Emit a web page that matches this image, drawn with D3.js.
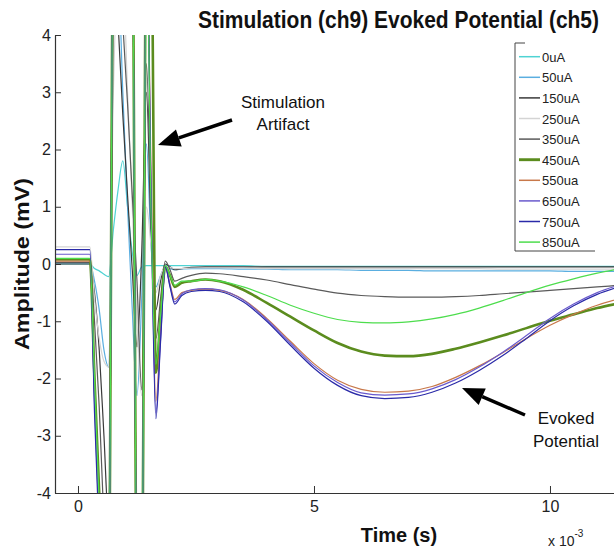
<!DOCTYPE html>
<html>
<head>
<meta charset="utf-8">
<script src="https://cdn.jsdelivr.net/npm/d3@7"></script>
<style>
  body { margin: 0; background: #fff; }
  svg, svg text { font-family: "Liberation Sans", Arial, Helvetica, sans-serif; }
  .tick text { font-size: 16px; fill: #222; }
  .tick line, .domain { stroke: #333; }
</style>
</head>
<body>
<script>
// Time samples (ms) shared by all traces
var timeMs = [-0.5, 0.25,
  0.35, 0.45, 0.55, 0.65, 0.75, 0.85, 0.95, 1.05, 1.15, 1.25, 1.35, 1.45, 1.55, 1.65, 1.75, 1.85, 1.95, 2.05, 2.2,
  2.4, 2.7, 3.0, 3.5, 4.0, 4.5, 5.0, 5.5, 6.0, 6.5, 7.0, 7.5, 8.0, 8.5, 9.0, 9.5, 10.0, 10.5, 11.0, 11.5];

// Amplitudes (mV), one array per stimulation current
var amp0uA = [0.0, 0.0,
  -0.08, -0.12, -0.18, -0.22, 0.6, 1.3, 1.8, 1.0, 0.2, -0.2, -0.05, -0.03, -0.03, -0.03, -0.03, -0.03, -0.03, -0.03, -0.03,
  -0.03, -0.03, -0.03, -0.03, -0.04, -0.04, -0.04, -0.04, -0.04, -0.04, -0.04, -0.04, -0.04, -0.04, -0.04, -0.04, -0.04, -0.04, -0.04, -0.04];
var amp50uA = [0.02, 0.02,
  -0.3, -0.8, -1.5, -1.8, 4.5, 5.0, 3.0, 1.0, -0.8, -2.3, -0.6, 2.1, 0.3, -0.4, -0.2, -0.05, -0.08, -0.1, -0.09,
  -0.08, -0.08, -0.08, -0.09, -0.09, -0.1, -0.1, -0.1, -0.11, -0.11, -0.11, -0.12, -0.12, -0.12, -0.12, -0.12, -0.12, -0.13, -0.13, -0.13];
var amp150uA = [0.0, 0.0,
  -0.5, -1.5, -3.0, -4.5, 6.0, 4.2, 2.6, 1.2, -0.1, -1.45, 0.2, 3.0, 0.5, -0.8, -0.3, 0.0, -0.05, -0.1, -0.08,
  -0.06, -0.05, -0.05, -0.05, -0.05, -0.05, -0.05, -0.05, -0.05, -0.05, -0.05, -0.05, -0.05, -0.05, -0.05, -0.05, -0.05, -0.05, -0.05, -0.05];
var amp250uA = [0.3, 0.3,
  -0.6, -1.3, -1.7, -1.8, 3.0, 5.0, 5.0, 3.0, 1.0, -1.0, -2.3, 1.0, 0.3, -0.5, -0.2, -0.05, -0.06, -0.08, -0.08,
  -0.07, -0.07, -0.07, -0.07, -0.08, -0.08, -0.08, -0.08, -0.08, -0.08, -0.08, -0.08, -0.08, -0.08, -0.09, -0.09, -0.09, -0.09, -0.09, -0.09];
var amp350uA = [0.03, 0.03,
  -1.0, -2.5, -4.5, -6.0, 5.0, 6.0, 4.2, 2.8, 1.2, -0.3, -2.2, 3.5, 0.8, -1.3, -0.6, 0.05, -0.1, -0.3, -0.25,
  -0.2, -0.16, -0.17, -0.22, -0.28, -0.36, -0.44, -0.51, -0.55, -0.57, -0.58, -0.58, -0.57, -0.55, -0.52, -0.49, -0.46, -0.43, -0.4, -0.37];
var amp450uA = [0.08, 0.08,
  -2.0, -4.0, -6.0, -6.0, 6.0, 6.0, 6.0, 6.0, 6.0, -6.0, -6.0, 6.0, 6.0, -1.9, -0.9, -0.05, -0.2, -0.4, -0.33,
  -0.3, -0.27, -0.3, -0.45, -0.68, -0.92, -1.16, -1.38, -1.53, -1.6, -1.61, -1.57, -1.48, -1.37, -1.25, -1.12, -0.99, -0.88, -0.77, -0.68];
var amp550uA = [0.05, 0.05,
  -2.2, -4.4, -6.0, -6.0, 6.0, 6.0, 6.0, 6.0, 6.0, -6.0, -6.0, 6.0, 1.5, -2.4, -1.2, -0.05, -0.35, -0.62, -0.5,
  -0.46, -0.44, -0.46, -0.62, -0.95, -1.35, -1.74, -2.03, -2.19, -2.24, -2.22, -2.14, -1.98, -1.78, -1.55, -1.3, -1.07, -0.88, -0.72, -0.6];
var amp650uA = [0.17, 0.17,
  -2.4, -4.6, -6.0, -6.0, 6.0, 6.0, 6.0, 6.0, 6.0, -6.0, -6.0, 6.0, 1.2, -2.6, -1.3, -0.05, -0.38, -0.66, -0.52,
  -0.45, -0.43, -0.45, -0.63, -0.97, -1.38, -1.78, -2.07, -2.25, -2.29, -2.27, -2.18, -2.02, -1.8, -1.54, -1.25, -0.95, -0.7, -0.5, -0.36];
var amp750uA = [0.25, 0.25,
  -2.6, -4.8, -6.0, -6.0, 6.0, 6.0, 6.0, 6.0, 6.0, -6.0, -6.0, 6.0, 1.0, -2.7, -1.35, -0.05, -0.4, -0.7, -0.55,
  -0.48, -0.46, -0.48, -0.66, -1.0, -1.42, -1.82, -2.12, -2.3, -2.35, -2.33, -2.24, -2.08, -1.86, -1.6, -1.3, -0.99, -0.73, -0.53, -0.39];
var amp850uA = [0.1, 0.1,
  -2.0, -4.2, -6.0, -6.0, 6.0, 6.0, 6.0, 6.0, 6.0, -6.0, -6.0, 6.0, 0.8, -1.75, -0.9, -0.03, -0.2, -0.37, -0.3,
  -0.3, -0.27, -0.3, -0.4, -0.55, -0.72, -0.86, -0.97, -1.02, -1.03, -1.01, -0.96, -0.88, -0.77, -0.64, -0.5, -0.37, -0.26, -0.16, -0.08];

var seriesLabels = ["0uA", "50uA", "150uA", "250uA", "350uA", "450uA", "550ua", "650uA", "750uA", "850uA"];
var seriesValues = [amp0uA, amp50uA, amp150uA, amp250uA, amp350uA, amp450uA, amp550uA, amp650uA, amp750uA, amp850uA];
var yTicks = [-4, -3, -2, -1, 0, 1, 2, 3, 4];
var xTicks = [0, 0.005, 0.01];

// styles
var lineColors = ["#4fd3d3", "#5aaee0", "#3a3a3a", "#d4d4d4", "#5a5a5a", "#5b8c1e", "#c8784a", "#6a5acd", "#2a2aa8", "#4ddd4d"];
var lineWidths = [1.2, 1.2, 1.2, 1.2, 1.2, 2.6, 1.2, 1.2, 1.2, 1.2];

var svgWidth = 614;
var svgHeight = 548;
var plot = { left: 55, right: 614, top: 35, bottom: 493 };

var svg = d3.select("body")
  .append("svg")
  .attr("width", svgWidth)
  .attr("height", svgHeight);

var xScale = d3.scaleLinear()
  .domain([-0.487e-3, 11.356e-3])
  .range([plot.left, plot.right]);

var yScale = d3.scaleLinear()
  .domain([-4, 4])
  .range([plot.bottom, plot.top]);

svg.append("clipPath").attr("id", "plotClip")
  .append("rect")
  .attr("x", plot.left)
  .attr("y", plot.top)
  .attr("width", plot.right - plot.left)
  .attr("height", plot.bottom - plot.top);

// traces
var line = d3.line()
  .x(function(d) { return xScale(d[0]); })
  .y(function(d) { return yScale(d[1]); })
  .curve(d3.curveMonotoneX);

var traceGroup = svg.append("g").attr("clip-path", "url(#plotClip)");
seriesValues.forEach(function(vals, i) {
  var pts = vals.map(function(v, j) { return [timeMs[j] * 1e-3, v]; });
  traceGroup.append("path")
    .datum(pts)
    .attr("d", line)
    .attr("fill", "none")
    .attr("stroke", lineColors[i])
    .attr("stroke-width", lineWidths[i])
    .attr("stroke-linejoin", "round");
});

// axes (MATLAB style: ticks pointing in)
var leftAxis = d3.axisLeft(yScale).tickValues(yTicks).tickSizeInner(-6).tickSizeOuter(0).tickPadding(4)
  .tickFormat(function(d) { return String(d); });
var bottomAxis = d3.axisBottom(xScale).tickValues(xTicks).tickSizeInner(-7).tickSizeOuter(0).tickPadding(8)
  .tickFormat(function(d) { return String(Math.round(d * 1000)); });

svg.append("g")
  .attr("transform", `translate(${plot.left}, 0)`)
  .call(leftAxis)
  .attr("font-family", null);

svg.append("g")
  .attr("transform", `translate(0, ${plot.bottom})`)
  .call(bottomAxis)
  .attr("font-family", null);

svg.selectAll(".domain").attr("stroke-width", 1.2);

// title and axis labels
svg.append("text")
  .attr("transform", "translate(198, 28) scale(1, 1.15)")
  .style("font-size", "21px").style("font-weight", "bold").attr("fill", "#111")
  .text("Stimulation (ch9) Evoked Potential (ch5)");

svg.append("text")
  .attr("transform", "translate(29, 264) rotate(-90)")
  .attr("text-anchor", "middle")
  .attr("textLength", 172).attr("lengthAdjust", "spacingAndGlyphs")
  .style("font-size", "21px").style("font-weight", "bold").attr("fill", "#111")
  .text("Amplitude (mV)");

svg.append("text")
  .attr("x", 399).attr("y", 542)
  .attr("text-anchor", "middle")
  .style("font-size", "20px").style("font-weight", "bold").attr("fill", "#111")
  .text("Time (s)");

var expo = svg.append("text").attr("x", 548).attr("y", 546).style("font-size", "14px").attr("fill", "#222");
expo.append("tspan").text("x 10");
expo.append("tspan").attr("dy", -9).style("font-size", "10px").text("-3");

// legend
var legend = svg.append("g");
legend.append("path")
  .attr("d", "M525,43 H515 V251 H595")
  .attr("fill", "none").attr("stroke", "#444").attr("stroke-width", 1);

var legendItems = legend.selectAll("g.item")
  .data(seriesLabels)
  .enter()
  .append("g")
  .attr("transform", function(d, i) { return `translate(0, ${56.7 + i * 20.6})`; });

legendItems.append("line")
  .attr("x1", 519).attr("x2", 540)
  .attr("stroke", function(d, i) { return lineColors[i]; })
  .attr("stroke-width", function(d, i) { return lineWidths[i] + 0.3; });

legendItems.append("text")
  .attr("x", 542).attr("y", 5)
  .style("font-size", "13px").attr("fill", "#222")
  .text(function(d) { return d; });

// annotations
function arrow(x1, y1, x2, y2) {
  var dx = x2 - x1, dy = y2 - y1, len = Math.sqrt(dx * dx + dy * dy);
  var ux = dx / len, uy = dy / len;
  var bx = x2 - 22 * ux, by = y2 - 22 * uy;
  var nx = -uy, ny = ux;
  svg.append("line")
    .attr("x1", x1).attr("y1", y1).attr("x2", bx).attr("y2", by)
    .attr("stroke", "#000").attr("stroke-width", 3.5);
  svg.append("polygon")
    .attr("points", [[x2, y2], [bx + 9 * nx, by + 9 * ny], [bx - 9 * nx, by - 9 * ny]].join(" "))
    .attr("fill", "#000");
}

arrow(232, 120, 158, 145);
arrow(525, 415, 462, 388);

var stimText = svg.append("text").attr("text-anchor", "middle").style("font-size", "17px").attr("fill", "#111");
stimText.append("tspan").attr("x", 283).attr("y", 108).text("Stimulation");
stimText.append("tspan").attr("x", 283).attr("y", 130).text("Artifact");

var evText = svg.append("text").attr("text-anchor", "middle").style("font-size", "17px").attr("fill", "#111");
evText.append("tspan").attr("x", 566).attr("y", 424).text("Evoked");
evText.append("tspan").attr("x", 566).attr("y", 447).text("Potential");
</script>
</body>
</html>
